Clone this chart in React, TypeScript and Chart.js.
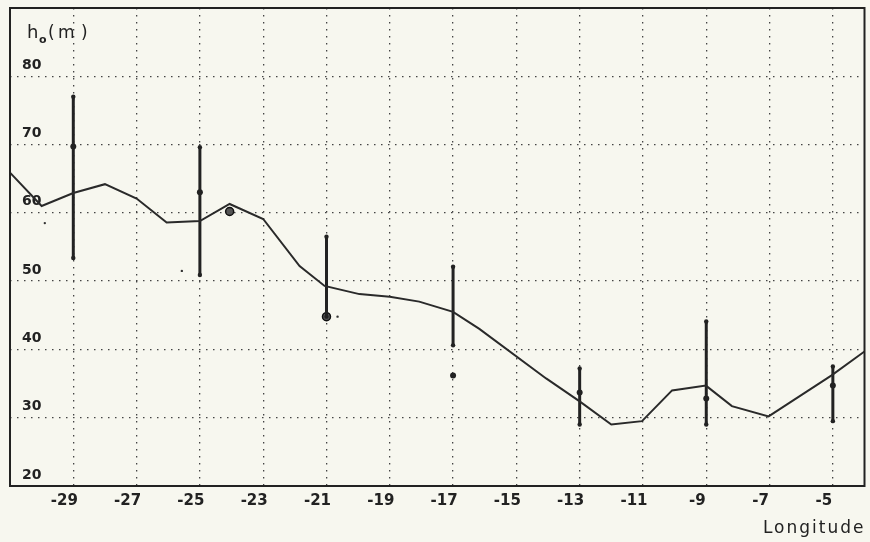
import React, { useEffect, useRef } from "react";
import { Chart, registerables } from "chart.js";

Chart.register(...registerables);

// Smoothed profile h0 (m) vs longitude
const lineLon = [-31, -30, -29, -28, -27, -26.05, -25, -24.06, -23, -21.85, -21.06, -19.96, -19, -18.07, -17, -16.17, -14.06, -13, -12, -11.03, -10.08, -9.01, -8.19, -7.03, -5.04, -4];
const lineH = [65.9, 61.0, 62.9, 64.2, 62.1, 58.6, 58.8, 61.3, 59.1, 52.2, 49.3, 48.1, 47.7, 47.0, 45.5, 43.0, 35.75, 32.4, 29.0, 29.5, 34.0, 34.7, 31.7, 30.2, 36.2, 39.7];

// Error bars
const barLon = [-29, -25, -21, -17, -13, -9, -5];
const barLow = [53.4, 50.9, 44.8, 40.6, 29.0, 29.0, 29.5];
const barHigh = [77.0, 69.6, 56.5, 52.1, 37.2, 44.1, 37.5];

// Observed points
const obsLon = [-29, -25, -17, -13, -9, -5];
const obsH = [69.7, 63.0, 36.2, 33.7, 32.8, 34.7];

// Circled points
const circLon = [-24.06, -21];
const circH = [60.2, 44.8];

// Isolated small dots
const dotLon = [-29.9, -25.57, -20.65];
const dotH = [58.5, 51.5, 44.8];

const xTicks = [-29, -27, -25, -23, -21, -19, -17, -15, -13, -11, -9, -7, -5];
const yTicks = [20, 30, 40, 50, 60, 70, 80];

const INK = "#222";

export default function App() {
  const ref = useRef<HTMLCanvasElement | null>(null);

  useEffect(() => {
    if (!ref.current) return;
    const barData: any[] = [];
    barLon.forEach((x, i) => {
      barData.push({ x, y: barLow[i] });
      barData.push({ x, y: barHigh[i] });
      barData.push({ x, y: null });
    });

    const framePlugin = {
      id: "frame",
      afterDraw(chart: any) {
        const { ctx, chartArea: a } = chart;
        ctx.save();
        ctx.strokeStyle = INK;
        ctx.lineWidth = 2;
        ctx.setLineDash([]);
        ctx.strokeRect(a.left, a.top, a.right - a.left, a.bottom - a.top);
        ctx.fillStyle = INK;
        ctx.textBaseline = "alphabetic";
        ctx.textAlign = "left";
        // y title h0 (m)
        ctx.font = "18px 'DejaVu Sans'";
        ctx.fillText("h", a.left + 17, a.top + 30);
        ctx.font = "bold 11px 'DejaVu Sans'";
        ctx.fillText("o", a.left + 29, a.top + 35);
        ctx.font = "17px 'DejaVu Sans'";
        ctx.fillText("(", a.left + 38, a.top + 30);
        ctx.fillText("m", a.left + 48, a.top + 30);
        ctx.fillText(")", a.left + 71, a.top + 30);
        // x title
        ctx.font = "17px 'DejaVu Sans'";
        (ctx as any).letterSpacing = "2px";
        ctx.textAlign = "right";
        ctx.fillText("Longitude", a.right + 1, a.bottom + 47);
        (ctx as any).letterSpacing = "0px";
        ctx.restore();
      },
    };

    const chart = new Chart(ref.current, {
      type: "scatter",
      data: {
        datasets: [
          {
            type: "line",
            label: "profile",
            data: lineLon.map((x, i) => ({ x, y: lineH[i] })),
            borderColor: "#2a2a2a",
            borderWidth: 2,
            pointRadius: 0,
            tension: 0,
          } as any,
          {
            type: "line",
            label: "bars",
            data: barData,
            borderColor: INK,
            borderWidth: 3,
            pointRadius: 2.2,
            pointBackgroundColor: INK,
            pointBorderWidth: 0,
            spanGaps: false,
          } as any,
          {
            label: "obs",
            data: obsLon.map((x, i) => ({ x, y: obsH[i] })),
            pointRadius: 3,
            backgroundColor: INK,
            borderWidth: 0,
          },
          {
            label: "circ",
            data: circLon.map((x, i) => ({ x, y: circH[i] })),
            pointRadius: 4,
            backgroundColor: "#555",
            borderColor: "#111",
            borderWidth: 1.5,
          },
          {
            label: "dots",
            data: dotLon.map((x, i) => ({ x, y: dotH[i] })),
            pointRadius: 1.2,
            backgroundColor: "#333",
            borderWidth: 0,
          },
        ],
      },
      options: {
        animation: false,
        responsive: false,
        layout: { padding: { left: 10, top: 8, right: 3, bottom: 0 } },
        plugins: { legend: { display: false }, tooltip: { enabled: false } },
        scales: {
          x: {
            type: "linear",
            min: -31,
            max: -4,
            afterBuildTicks: (s: any) => {
              s.ticks = xTicks.map((v) => ({ value: v }));
            },
            afterFit: (s: any) => {
              s.height = 56;
              s.paddingLeft = 0;
              s.paddingRight = 0;
            },
            grid: { color: "#444", lineWidth: 1.3, drawTicks: false },
            border: { display: false, dash: [1.5, 5.5] },
            ticks: {
              padding: 6,
              labelOffset: -9,
              color: INK,
              font: { family: "'DejaVu Sans'", size: 15, weight: "bold" },
              callback: (v: any) => String(v),
            },
          },
          y: {
            type: "linear",
            min: 20,
            max: 90,
            afterBuildTicks: (s: any) => {
              s.ticks = yTicks.map((v) => ({ value: v }));
            },
            afterFit: (s: any) => {
              s.width = 0;
              s.paddingTop = 0;
              s.paddingBottom = 0;
            },
            grid: { color: "#444", lineWidth: 1.3, drawTicks: false },
            border: { display: false, dash: [1.5, 5.5] },
            ticks: {
              mirror: true,
              padding: 12,
              labelOffset: -11,
              color: INK,
              font: { family: "'DejaVu Sans'", size: 14, weight: "bold" },
              callback: (v: any) => String(v),
            },
          },
        },
      },
      plugins: [framePlugin],
    } as any);
    return () => chart.destroy();
  }, []);

  return (
    <div style={{ position: "fixed", left: 0, top: 0, width: 870, height: 542, background: "#f7f7ef" }}>
      <canvas ref={ref} width={870} height={542} style={{ display: "block" }} />
    </div>
  );
}
